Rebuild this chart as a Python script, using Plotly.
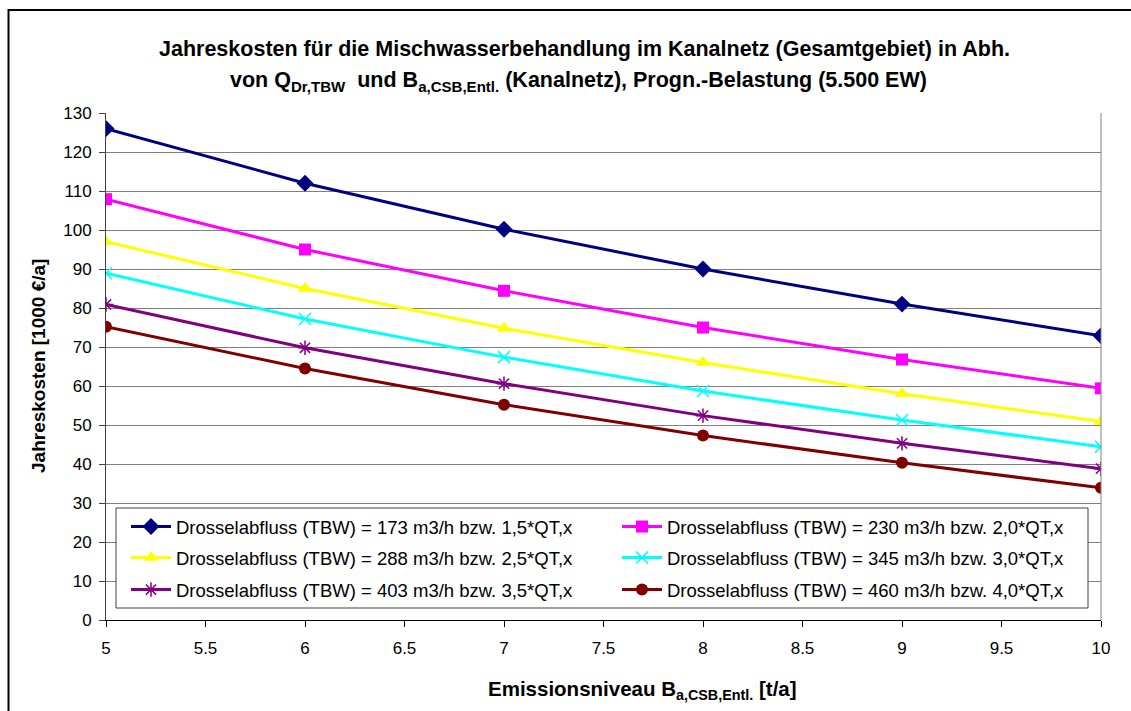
import plotly.graph_objects as go

# Emissionsniveau B_a,CSB,Entl. [t/a]
emission = [5, 6, 7, 8, 9, 10]

# Jahreskosten [1000 €/a] je Drosselabfluss
kosten_173 = [126.0, 112.0, 100.2, 90.0, 81.0, 72.9]
kosten_230 = [107.9, 95.0, 84.4, 75.0, 66.8, 59.4]
kosten_288 = [97.0, 85.0, 74.8, 66.0, 58.0, 50.9]
kosten_345 = [88.9, 77.2, 67.4, 58.7, 51.3, 44.4]
kosten_403 = [80.9, 69.8, 60.6, 52.4, 45.3, 38.8]
kosten_460 = [75.2, 64.5, 55.2, 47.3, 40.3, 33.9]

series_names = [
    "Drosselabfluss (TBW) = 173 m3/h bzw. 1,5*QT,x",
    "Drosselabfluss (TBW) = 230 m3/h bzw. 2,0*QT,x",
    "Drosselabfluss (TBW) = 288 m3/h bzw. 2,5*QT,x",
    "Drosselabfluss (TBW) = 345 m3/h bzw. 3,0*QT,x",
    "Drosselabfluss (TBW) = 403 m3/h bzw. 3,5*QT,x",
    "Drosselabfluss (TBW) = 460 m3/h bzw. 4,0*QT,x",
]
series_values = [kosten_173, kosten_230, kosten_288, kosten_345, kosten_403, kosten_460]
series_colors = ["#000080", "#FF00FF", "#FFFF00", "#00FFFF", "#800080", "#800000"]
series_symbols = ["diamond", "square", "triangle-up", "x-thin-open", "asterisk-open", "circle"]
series_sizes = [13, 12, 13, 12, 12, 12]
legend_ids = ["legend", "legend", "legend2", "legend2", "legend3", "legend3"]

FONT = "Liberation Sans, Arial, sans-serif"

fig = go.Figure()
for name, vals, col, sym, size, lg in zip(series_names, series_values, series_colors,
                                          series_symbols, series_sizes, legend_ids):
    open_sym = sym.endswith("-open")
    fig.add_trace(go.Scatter(
        x=emission, y=vals, name=name, mode="lines+markers",
        line=dict(color=col, width=3),
        marker=dict(symbol=sym, size=size, color=col,
                    line=dict(color=col, width=1.5 if open_sym else 0)),
        legend=lg,
    ))

# Legend rows (two entries per row)
row_y = [(620 - 527) / 507, (620 - 558) / 507, (620 - 590) / 507]
legend_common = dict(orientation="h", x=0.0201, xanchor="left", yanchor="middle",
                     bgcolor="rgba(0,0,0,0)", borderwidth=0,
                     font=dict(family=FONT, size=18.5, color="black"),
                     entrywidth=436, entrywidthmode="pixels", itemwidth=40,
                     traceorder="normal")

fig.update_layout(
    width=1131, height=711,
    margin=dict(l=106, r=30, t=113, b=91),
    paper_bgcolor="white", plot_bgcolor="white",
    showlegend=True,
    legend=dict(y=row_y[0], **legend_common),
    legend2=dict(y=row_y[1], **legend_common),
    legend3=dict(y=row_y[2], **legend_common),
    xaxis=dict(range=[5, 10], dtick=0.5, tick0=5, showgrid=False, zeroline=False,
               showline=True, linecolor="black", linewidth=1,
               ticks="outside", ticklen=6, tickcolor="black", ticklabelstandoff=7,
               tickfont=dict(family=FONT, size=17, color="black")),
    yaxis=dict(range=[0, 130], dtick=10, tick0=0, showgrid=True, gridcolor="#808080",
               gridwidth=1, zeroline=False, showline=True, linecolor="#404040",
               linewidth=1, ticks="outside", ticklen=6, tickcolor="#404040",
               ticklabelstandoff=4,
               tickfont=dict(family=FONT, size=17, color="black")),
    font=dict(family=FONT, color="black"),
)

# Right border of the plot area, legend box and outer chart frame
fig.add_shape(type="line", xref="paper", yref="paper", x0=1, x1=1, y0=0, y1=1,
              line=dict(color="#808080", width=1))
fig.add_shape(type="rect", xref="paper", yref="paper",
              x0=(116 - 106) / 995, x1=(1088 - 106) / 995,
              y0=(620 - 608) / 507, y1=(620 - 508) / 507,
              fillcolor="white", line=dict(color="#404040", width=1), layer="above")
fig.add_shape(type="rect", xref="paper", yref="paper",
              x0=(8.5 - 106) / 995, x1=(1160 - 106) / 995,
              y0=(620 - 740) / 507, y1=(620 - 10) / 507,
              line=dict(color="black", width=2), layer="above")

# Title lines
fig.add_annotation(
    text="<b>Jahreskosten für die Mischwasserbehandlung im Kanalnetz (Gesamtgebiet) in Abh.</b>",
    xref="paper", yref="paper", x=(584 - 106) / 995, y=(620 - 49) / 507,
    xanchor="center", yanchor="middle", showarrow=False,
    font=dict(family=FONT, size=21.5, color="black"))
fig.add_annotation(
    text="<b>von Q<sub>Dr,TBW</sub>\u00a0 und B<sub>a,CSB,Entl.</sub> (Kanalnetz), Progn.-Belastung (5.500 EW)</b>",
    xref="paper", yref="paper", x=(578 - 106) / 995, y=(620 - 82) / 507,
    xanchor="center", yanchor="middle", showarrow=False,
    font=dict(family=FONT, size=21.5, color="black"))

# Axis titles
fig.add_annotation(
    text="<b>Jahreskosten [1000 €/a]</b>",
    xref="paper", yref="paper", x=(38 - 106) / 995, y=(620 - 366) / 507,
    xanchor="center", yanchor="middle", textangle=-90, showarrow=False,
    font=dict(family=FONT, size=19, color="black"))
fig.add_annotation(
    text="<b>Emissionsniveau B<sub>a,CSB,Entl.</sub> [t/a]</b>",
    xref="paper", yref="paper", x=(642 - 106) / 995, y=(620 - 690) / 507,
    xanchor="center", yanchor="middle", showarrow=False,
    font=dict(family=FONT, size=20.5, color="black"))

fig.write_html("out.html")
